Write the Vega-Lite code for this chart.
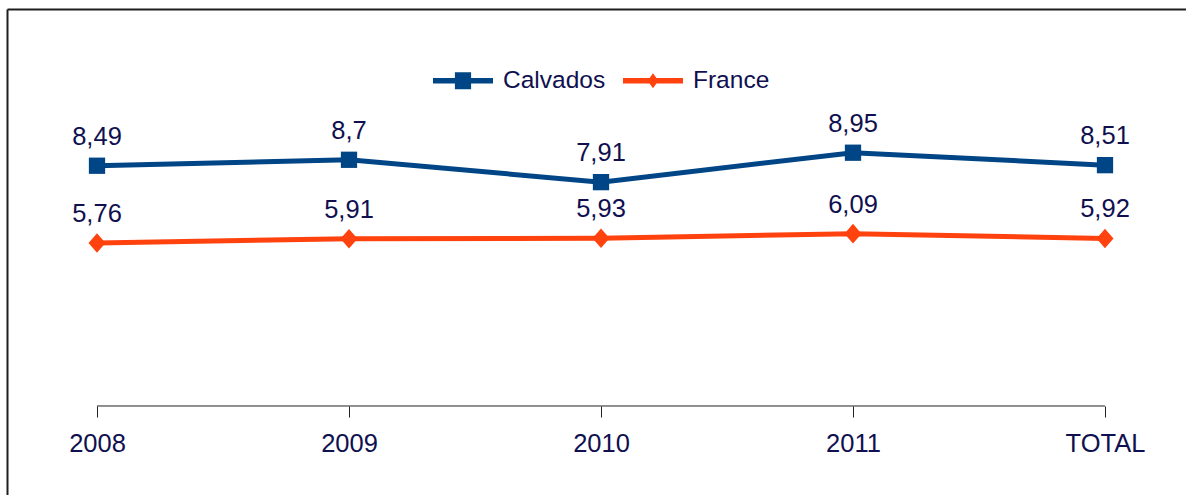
{
  "$schema": "https://vega.github.io/schema/vega-lite/v6.json",
  "width": 1179,
  "height": 486,
  "autosize": {"type": "none"},
  "padding": {"left": 7, "top": 9, "right": 0, "bottom": 0},
  "background": "white",
  "config": {
    "view": {"stroke": null},
    "font": "Liberation Sans",
    "locale": {"number": {"decimal": ",", "thousands": " ", "grouping": [3], "currency": ["", " €"]}}
  },
  "data": {
    "values": [
      {"year": "2008", "series": "Calvados", "value": 8.49},
      {"year": "2009", "series": "Calvados", "value": 8.7},
      {"year": "2010", "series": "Calvados", "value": 7.91},
      {"year": "2011", "series": "Calvados", "value": 8.95},
      {"year": "TOTAL", "series": "Calvados", "value": 8.51},
      {"year": "2008", "series": "France", "value": 5.76},
      {"year": "2009", "series": "France", "value": 5.91},
      {"year": "2010", "series": "France", "value": 5.93},
      {"year": "2011", "series": "France", "value": 6.09},
      {"year": "TOTAL", "series": "France", "value": 5.92}
    ]
  },
  "encoding": {
    "x": {"field": "year", "type": "ordinal", "sort": null, "scale": {"type": "point", "padding": 0.3393, "align": 0.5263}, "axis": null},
    "y": {"field": "value", "type": "quantitative", "scale": {"domain": [-3.145, 14.028], "nice": false, "zero": false},
      "axis": {"orient": "left", "offset": 0, "domain": true, "domainColor": "#1e1e1e", "domainWidth": 2, "ticks": false, "labels": false, "grid": false, "title": null}}
  },
  "layer": [
    {
      "transform": [{"filter": "datum.series === 'Calvados'"}],
      "mark": {"type": "line", "color": "#222222", "strokeWidth": 1},
      "encoding": {
        "x": {"field": "year", "type": "ordinal", "sort": null, "scale": {"type": "point", "padding": 0.3393, "align": 0.5263},
          "axis": {"orient": "bottom", "offset": -89, "domain": false, "grid": false, "ticks": true, "tickSize": 11, "tickColor": "#222222", "tickWidth": 1,
            "labels": true, "labelAngle": 0, "labelOverlap": false, "labelPadding": 14, "labelFont": "Liberation Sans", "labelFontSize": 25.5, "labelColor": "#101050", "title": null}},
        "y": {"datum": 0, "type": "quantitative", "scale": {"domain": [-3.145, 14.028], "nice": false, "zero": false},
          "axis": {"orient": "left", "offset": 0, "domain": true, "domainColor": "#1e1e1e", "domainWidth": 2, "ticks": false, "labels": false, "grid": false, "title": null}}
      }
    },
    {
      "transform": [{"filter": "datum.series === 'Calvados'"}],
      "mark": {"type": "line", "color": "#004586", "strokeWidth": 5, "point": {"filled": true, "shape": "square", "size": 265, "color": "#004586"}}
    },
    {
      "transform": [{"filter": "datum.series === 'France'"}],
      "mark": {"type": "line", "color": "#ff420e", "strokeWidth": 5, "point": {"filled": true, "shape": "M0,-1.15L1,0L0,1.15L-1,0Z", "size": 289, "color": "#ff420e"}}
    },
    {
      "mark": {"type": "text", "font": "Liberation Sans", "fontSize": 25.5, "color": "#101050", "align": "center", "baseline": "alphabetic", "dy": -21},
      "encoding": {
        "text": {"field": "value", "type": "quantitative", "format": ".3~g"}
      }
    },
    {
      "mark": {"type": "point", "filled": true, "opacity": 0},
      "encoding": {
        "x": {"field": "year", "type": "ordinal", "sort": null, "scale": {"type": "point", "padding": 0.3393, "align": 0.5263},
          "axis": {"orient": "top", "offset": 0, "domain": true, "domainColor": "#1e1e1e", "domainWidth": 2, "ticks": false, "labels": false, "grid": false, "title": null}},
        "color": {"field": "series", "type": "nominal", "scale": {"domain": ["Calvados", "France"], "range": ["#004586", "#ff420e"]},
          "legend": {"orient": "none", "legendX": 426, "legendY": 41.5, "direction": "horizontal", "title": null, "padding": 0,
            "symbolSize": 3600, "symbolStrokeWidth": 0, "symbolOpacity": 1, "labelFont": "Liberation Sans", "labelFontSize": 24.5, "labelColor": "#101050", "labelOffset": 10, "columnPadding": 17}},
        "shape": {"field": "series", "type": "nominal", "scale": {"domain": ["Calvados", "France"], "range": ["M-1,-0.09H1V0.09H-1Z M-0.27,-0.28H0.27V0.28H-0.27Z", "M-1,-0.09H1V0.09H-1Z M0,-0.25L0.18,0L0,0.25L-0.18,0Z"]},
          "legend": {"orient": "none", "legendX": 426, "legendY": 41.5, "direction": "horizontal", "title": null, "padding": 0,
            "symbolSize": 3600, "symbolStrokeWidth": 0, "symbolOpacity": 1, "labelFont": "Liberation Sans", "labelFontSize": 24.5, "labelColor": "#101050", "labelOffset": 10, "columnPadding": 17}}
      }
    }
  ]
}
